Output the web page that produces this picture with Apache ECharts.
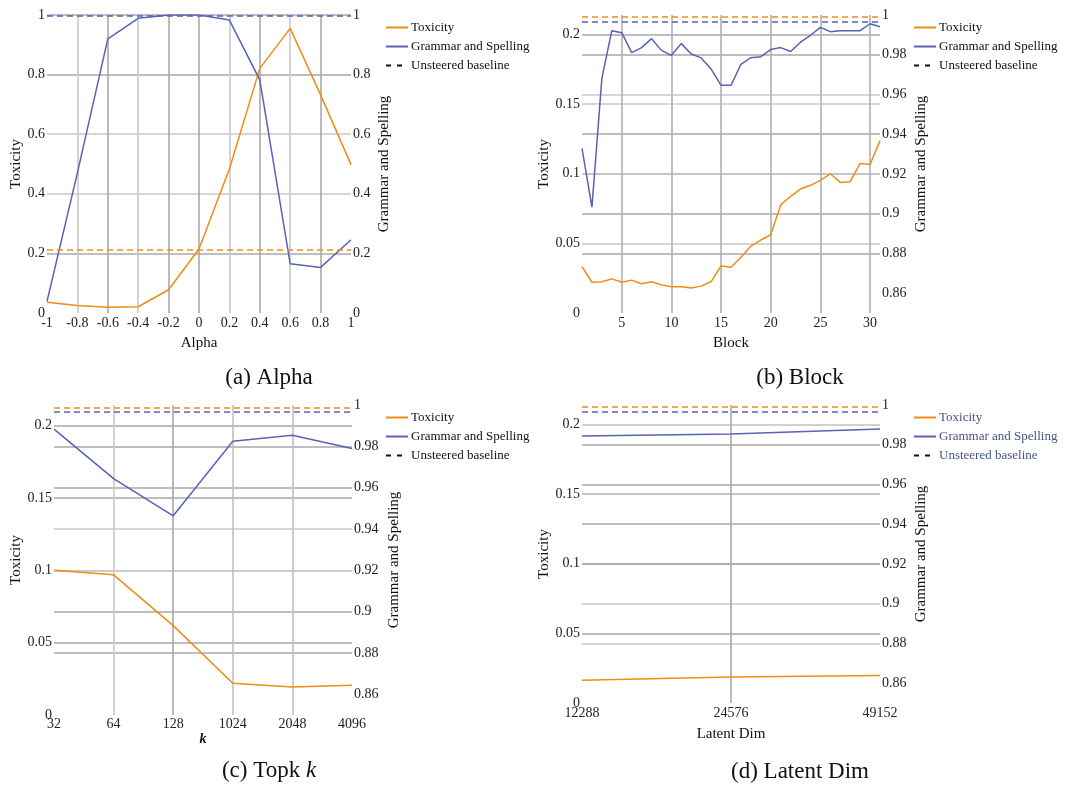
<!DOCTYPE html>
<html>
<head>
<meta charset="utf-8">
<script src="https://cdn.jsdelivr.net/npm/echarts@6/dist/echarts.min.js"></script>
<style>html,body{margin:0;padding:0;background:#fff;}#c{width:1065px;height:786px;}</style>
</head>
<body>
<div id="c"></div>
<script>
// ---------- data ----------
const alphaCats = ['-1','-0.8','-0.6','-0.4','-0.2','0','0.2','0.4','0.6','0.8','1'];
const alphaTox  = [0.036,0.025,0.019,0.021,0.078,0.215,0.483,0.821,0.955,0.732,0.498];
const alphaGram = [0.039,0.47,0.92,0.989,1.0,1.0,0.983,0.782,0.165,0.153,0.246];

const blocks    = [1,2,3,4,5,6,7,8,9,10,11,12,13,14,15,16,17,18,19,20,21,22,23,24,25,26,27,28,29,30,31];
const blockTox  = [0.0333,0.0221,0.0224,0.0245,0.0221,0.0236,0.0210,0.0224,0.0202,0.0188,0.0188,0.0179,0.0193,0.0226,0.0338,0.0329,0.0400,0.0481,0.0524,0.0562,0.0776,0.0838,0.0890,0.0917,0.0952,0.1000,0.0938,0.0943,0.1074,0.1067,0.1238];
const blockGram = [0.9329,0.9033,0.9681,0.9921,0.9911,0.9811,0.9836,0.9881,0.9822,0.9797,0.9856,0.9804,0.9784,0.9728,0.9646,0.9646,0.9752,0.9785,0.9790,0.9826,0.9836,0.9816,0.9863,0.9898,0.9938,0.9916,0.9921,0.9921,0.9921,0.9956,0.9941];
const blockTicks = [5,10,15,20,25,30];

const topkCats = ['32','64','128','1024','2048','4096'];
const topkTox  = [0.1001,0.0969,0.0618,0.0219,0.0194,0.0205];
const topkGram = [0.9883,0.9644,0.9464,0.9825,0.9854,0.9790];

const latentCats = ['12288','24576','49152'];
const latentTox  = [0.0164,0.0186,0.0198];
const latentGram = [0.9844,0.9854,0.9879];

const TOX_BASELINE = 0.2125;
const GRAM_BASELINE = 0.9968;

const alphaYTicks = [0,0.2,0.4,0.6,0.8,1];
const toxTicks  = [0,0.05,0.1,0.15,0.2];
const gramTicks = [0.86,0.88,0.9,0.92,0.94,0.96,0.98,1];

const captions = ['(a) Alpha','(b) Block','(c) Topk {i|k}','(d) Latent Dim'];
const legendNames = ['Toxicity','Grammar and Spelling','Unsteered baseline'];

// ---------- style ----------
const FONT = '"Liberation Serif", "DejaVu Serif", serif';
const ORANGE = '#ef8c12';
const BLUE = '#5763b6';
const D = '#a9a9a9', L = '#c9c9c9';

const chart = echarts.init(document.getElementById('c'), null, {renderer: 'canvas'});

const grids = [
  {left: 47,  top: 15,  width: 304, height: 298},
  {left: 582, top: 15,  width: 298, height: 298},
  {left: 54,  top: 405, width: 298, height: 310},
  {left: 582, top: 405, width: 298, height: 298}
];

function labelStyle(extra) {
  return Object.assign({fontFamily: FONT, fontSize: 14, color: '#222'}, extra || {});
}
function nameStyle(extra) {
  return Object.assign({fontFamily: FONT, fontSize: 15, color: '#111'}, extra || {});
}
function split(colors, minLine, maxLine) {
  return {show: true, showMinLine: minLine, showMaxLine: maxLine,
          lineStyle: {color: colors, width: 1.6}};
}

const xAxes = [
  {gridIndex: 0, type: 'category', data: alphaCats, boundaryGap: false,
   name: 'Alpha', nameLocation: 'middle', nameGap: 23, nameTextStyle: nameStyle(),
   axisLine: {show: false}, axisTick: {show: false},
   axisLabel: labelStyle({interval: 0, margin: 3}),
   splitLine: split([L,D,L,D,D,L,D,L,D], false, false)},
  {gridIndex: 1, type: 'value', min: 1, max: 31,
   name: 'Block', nameLocation: 'middle', nameGap: 23, nameTextStyle: nameStyle(),
   axisLine: {show: false}, axisTick: {show: false, customValues: blockTicks},
   axisLabel: labelStyle({margin: 3, customValues: blockTicks}),
   splitLine: split(['#b0b0b0'], true, true)},
  {gridIndex: 2, type: 'category', data: topkCats, boundaryGap: false,
   name: 'k', nameLocation: 'middle', nameGap: 15,
   nameTextStyle: nameStyle({fontStyle: 'italic', fontWeight: 'bold', fontSize: 14}),
   axisLine: {show: false}, axisTick: {show: false},
   axisLabel: labelStyle({interval: 0, margin: 2}),
   splitLine: split([L,D,'#c0c0c0','#c0c0c0'], false, false)},
  {gridIndex: 3, type: 'category', data: latentCats, boundaryGap: false,
   name: 'Latent Dim', nameLocation: 'middle', nameGap: 24, nameTextStyle: nameStyle(),
   axisLine: {show: false}, axisTick: {show: false},
   axisLabel: labelStyle({interval: 0, margin: 3}),
   splitLine: split([D], false, false)}
];

function toxAxis(g, max, ticks, colors, gap) {
  return {gridIndex: g, type: 'value', position: 'left', min: 0, max: max,
    name: 'Toxicity', nameLocation: 'middle', nameRotate: 90, nameGap: gap, nameTextStyle: nameStyle(),
    axisLine: {show: false}, axisTick: {show: false, customValues: ticks},
    axisLabel: labelStyle({margin: 2, customValues: ticks}),
    splitLine: split(colors, false, true)};
}
function gramAxis(g, min, ticks, colors, gap, showSplit) {
  return {gridIndex: g, type: 'value', position: 'right', min: min, max: 1,
    name: 'Grammar and Spelling', nameLocation: 'middle', nameRotate: 90, nameGap: gap, nameTextStyle: nameStyle(),
    axisLine: {show: false}, axisTick: {show: false, customValues: ticks},
    axisLabel: labelStyle({margin: 2, customValues: ticks}),
    splitLine: showSplit ? split(colors, false, false) : {show: false}};
}

const yAxes = [
  toxAxis(0, 1, alphaYTicks, [D,L,L,D], 22),
  gramAxis(0, 0, alphaYTicks, [L], 26, false),
  toxAxis(1, 0.214, toxTicks, [L,D,L,D], 30),
  gramAxis(1, 0.85, gramTicks, [D,D,L,D,L,D,D], 34, true),
  toxAxis(2, 0.2143, toxTicks, [D,L,D,D], 30),
  gramAxis(2, 0.85, gramTicks, [D,D,L,L,D,D,L], 35, true),
  toxAxis(3, 0.214, toxTicks, [D,D,'#b0b0b0','#c0c0c0'], 30),
  gramAxis(3, 0.85, gramTicks, [L,L,D,D,D,D,D], 34, true)
];

function baseline(value, color) {
  return {silent: true, symbol: ['none','none'], label: {show: false}, animation: false,
    precision: 6,
    lineStyle: {type: [6,4], width: 1.6, color: color},
    emphasis: {disabled: true},
    data: [{yAxis: value}]};
}

function panelSeries(p, tox, gram) {
  return [
    {name: 'Toxicity', type: 'line', xAxisIndex: p, yAxisIndex: 2*p, data: tox,
     symbol: 'none', lineStyle: {color: ORANGE, width: 1.5}, itemStyle: {color: ORANGE},
     markLine: baseline(TOX_BASELINE, ORANGE)},
    {name: 'Grammar and Spelling', type: 'line', xAxisIndex: p, yAxisIndex: 2*p+1, data: gram,
     symbol: 'none', lineStyle: {color: BLUE, width: 1.5}, itemStyle: {color: BLUE},
     markLine: baseline(GRAM_BASELINE, BLUE)}
  ];
}

const series = [].concat(
  panelSeries(0, alphaTox, alphaGram),
  panelSeries(1, blocks.map((b, i) => [b, blockTox[i]]), blocks.map((b, i) => [b, blockGram[i]])),
  panelSeries(2, topkTox, topkGram),
  panelSeries(3, latentTox, latentGram),
  [{name: 'Unsteered baseline', type: 'line', xAxisIndex: 0, yAxisIndex: 0, data: [],
    symbol: 'none', lineStyle: {color: '#111', width: 1.6, type: [5,6]}, itemStyle: {color: '#111'}}]
);

function legend(left, top, color) {
  return {orient: 'vertical', left: left, top: top, data: legendNames, padding: 0,
    itemWidth: 22, itemHeight: 14, itemGap: 6, selectedMode: false,
    itemStyle: {opacity: 0, borderWidth: 0},
    textStyle: {fontFamily: FONT, fontSize: 13, color: color, padding: [0, 0, 0, -2]}};
}

const capPos = [[269, 378], [800, 378], [269, 771], [800, 772]];

chart.setOption({
  animation: false,
  backgroundColor: '#fff',
  grid: grids,
  xAxis: xAxes,
  yAxis: yAxes,
  series: series,
  legend: [legend(385, 21, '#111'), legend(913, 21, '#111'), legend(385, 411, '#111'), legend(913, 411, '#46548a')],
  graphic: captions.map((t, i) => ({
    type: 'text', x: capPos[i][0], y: capPos[i][1], silent: true,
    style: {text: t, fill: '#111', font: '23px ' + FONT, textAlign: 'center', textVerticalAlign: 'middle',
            rich: {i: {fontStyle: 'italic', fontFamily: FONT, fontSize: 23, fill: '#111'}}}
  }))
});
</script>
</body>
</html>
